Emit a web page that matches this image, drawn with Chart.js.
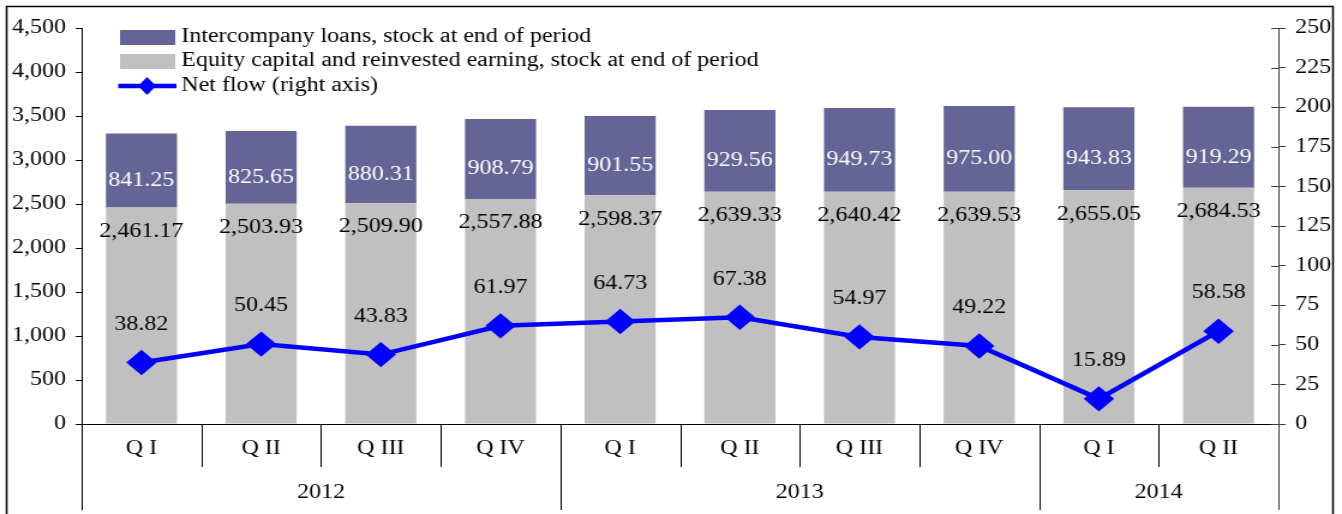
<!DOCTYPE html>
<html lang="en">
<head>
    <meta charset="UTF-8">
    <title>Foreign direct investment stocks and net flow</title>
    <script src="https://cdn.jsdelivr.net/npm/chart.js"></script>
    <style>
        html, body { margin: 0; padding: 0; background: #fff; overflow: hidden; }
    </style>
</head>
<body>
<!-- the original picture is stretched horizontally, so the canvas is drawn narrower and widened by css -->
<canvas id="fdiChart" width="1118" height="514" style="width:1342px;height:514px"></canvas>
<script>
    // data
    const quarters = ['Q I', 'Q II', 'Q III', 'Q IV', 'Q I', 'Q II', 'Q III', 'Q IV', 'Q I', 'Q II'];
    const years = ['2012', '2013', '2014'];
    const quartersPerYear = [4, 4, 2];
    const equity = [2461.17, 2503.93, 2509.90, 2557.88, 2598.37, 2639.33, 2640.42, 2639.53, 2655.05, 2684.53];
    const loans = [841.25, 825.65, 880.31, 908.79, 901.55, 929.56, 949.73, 975.00, 943.83, 919.29];
    const netFlow = [38.82, 50.45, 43.83, 61.97, 64.73, 67.38, 54.97, 49.22, 15.89, 58.58];

    const FONT = 'Liberation Serif, Times New Roman, serif';
    const PURPLE = '#646496';
    const GREY = '#c0c0c0';
    const BLUE = '#0000ff';

    const fmt2 = v => v.toLocaleString('en-US', { minimumFractionDigits: 2, maximumFractionDigits: 2 });

    // labels on the bars and the line
    const valueLabels = {
        id: 'valueLabels',
        afterDatasetsDraw(chart) {
            const ctx = chart.ctx;
            ctx.save();
            ctx.font = '20px ' + FONT;
            ctx.textAlign = 'center';
            ctx.textBaseline = 'middle';
            chart.getDatasetMeta(0).data.forEach((bar, i) => {
                ctx.fillStyle = '#000';
                ctx.fillText(fmt2(equity[i]), bar.x, bar.y + 24);
            });
            chart.getDatasetMeta(1).data.forEach((bar, i) => {
                ctx.fillStyle = '#fff';
                ctx.fillText(fmt2(loans[i]), bar.x, (bar.y + bar.base) / 2 + 10);
            });
            chart.getDatasetMeta(2).data.forEach((pt, i) => {
                ctx.fillStyle = '#000';
                ctx.fillText(fmt2(netFlow[i]), pt.x, pt.y - 38);
            });
            ctx.restore();
        }
    };

    // frame, year row, dividers, legend
    const decorations = {
        id: 'decorations',
        afterDraw(chart) {
            const ctx = chart.ctx;
            const a = chart.chartArea;
            const y1 = chart.scales.y1;
            const step = (a.right - a.left) / quarters.length;
            ctx.save();

            // outer frame
            ctx.strokeStyle = '#000';
            ctx.lineWidth = 1.5;
            ctx.strokeRect(5.5, 6.5, 1105, 520);

            // right axis cross ticks (inner half)
            ctx.strokeStyle = '#404040';
            ctx.lineWidth = 1;
            y1.ticks.forEach(t => {
                const py = Math.round(y1.getPixelForValue(t.value)) + 0.5;
                ctx.beginPath();
                ctx.moveTo(a.right - 6, py);
                ctx.lineTo(a.right, py);
                ctx.stroke();
            });

            // axis lines continued through category area
            ctx.strokeStyle = '#000';
            ctx.beginPath();
            ctx.moveTo(a.left + 0.5, a.bottom);
            ctx.lineTo(a.left + 0.5, 510);
            ctx.stroke();
            ctx.strokeStyle = '#404040';
            ctx.beginPath();
            ctx.moveTo(a.right + 0.5, a.bottom);
            ctx.lineTo(a.right + 0.5, 510);
            ctx.stroke();

            // quarter and year dividers
            ctx.strokeStyle = '#000';
            let idx = 0;
            const boundaries = new Set();
            quartersPerYear.forEach(n => { idx += n; boundaries.add(idx); });
            for (let k = 1; k < quarters.length; k++) {
                const px = Math.round(a.left + k * step) + 0.5;
                ctx.beginPath();
                ctx.moveTo(px, a.bottom);
                ctx.lineTo(px, boundaries.has(k) ? 510 : 467);
                ctx.stroke();
            }

            // year labels
            ctx.fillStyle = '#000';
            ctx.font = '20px ' + FONT;
            ctx.textAlign = 'center';
            ctx.textBaseline = 'middle';
            let start = 0;
            years.forEach((yr, j) => {
                const n = quartersPerYear[j];
                ctx.fillText(yr, a.left + (start + n / 2) * step, 493);
                start += n;
            });

            // legend
            const lx = 100;
            const rows = [37, 61, 86];
            ctx.textAlign = 'left';
            ctx.fillStyle = PURPLE;
            ctx.fillRect(lx, rows[0] - 7, 46, 15);
            ctx.fillStyle = GREY;
            ctx.fillRect(lx, rows[1] - 7, 46, 15);
            ctx.strokeStyle = BLUE;
            ctx.lineWidth = 4.5;
            ctx.beginPath();
            ctx.moveTo(lx - 1.5, rows[2]);
            ctx.lineTo(lx + 47, rows[2]);
            ctx.stroke();
            ctx.fillStyle = BLUE;
            ctx.beginPath();
            ctx.moveTo(lx + 22.5, rows[2] - 9);
            ctx.lineTo(lx + 30, rows[2]);
            ctx.lineTo(lx + 22.5, rows[2] + 9);
            ctx.lineTo(lx + 15, rows[2]);
            ctx.closePath();
            ctx.fill();
            ctx.fillStyle = '#000';
            ctx.fillText('Intercompany loans, stock at end of period', lx + 51, rows[0]);
            ctx.fillText('Equity capital and reinvested earning, stock at end of period', lx + 51, rows[1]);
            ctx.fillText('Net flow (right axis)', lx + 51, rows[2]);

            ctx.restore();
        }
    };

    const ctx = document.getElementById('fdiChart').getContext('2d');
    const fdiChart = new Chart(ctx, {
        data: {
            labels: quarters,
            datasets: [
                {
                    type: 'bar',
                    label: 'Equity capital and reinvested earning, stock at end of period',
                    data: equity,
                    backgroundColor: GREY,
                    yAxisID: 'y',
                    barPercentage: 0.594,
                    categoryPercentage: 1
                },
                {
                    type: 'bar',
                    label: 'Intercompany loans, stock at end of period',
                    data: loans,
                    backgroundColor: PURPLE,
                    yAxisID: 'y',
                    barPercentage: 0.594,
                    categoryPercentage: 1
                },
                {
                    type: 'line',
                    label: 'Net flow (right axis)',
                    data: netFlow,
                    borderColor: BLUE,
                    backgroundColor: BLUE,
                    borderWidth: 4.5,
                    pointStyle: 'rectRot',
                    pointRadius: 9.5,
                    pointHoverRadius: 9.5,
                    tension: 0,
                    yAxisID: 'y1',
                    order: -1
                }
            ]
        },
        options: {
            responsive: false,
            animation: false,
            layout: { padding: { top: 28, left: 0, right: 0, bottom: 0 } },
            plugins: {
                legend: { display: false },
                tooltip: { enabled: false }
            },
            scales: {
                x: {
                    stacked: true,
                    grid: { display: false, drawTicks: false },
                    border: { display: true, color: '#000', width: 1 },
                    ticks: { color: '#000', font: { family: FONT, size: 20 }, padding: 13, maxRotation: 0 },
                    afterFit: s => { s.height = 90; }
                },
                y: {
                    stacked: true,
                    position: 'left',
                    min: 0,
                    max: 4500,
                    ticks: {
                        stepSize: 500,
                        color: '#000',
                        padding: 8,
                        font: { family: FONT, size: 20 },
                        callback: v => v.toLocaleString('en-US')
                    },
                    grid: { drawOnChartArea: false, drawTicks: true, tickLength: 5, color: '#000' },
                    border: { display: true, color: '#000', width: 1 },
                    afterFit: s => { s.width = 68; }
                },
                y1: {
                    position: 'right',
                    min: 0,
                    max: 250,
                    ticks: {
                        stepSize: 25,
                        color: '#000',
                        padding: 8,
                        font: { family: FONT, size: 20 }
                    },
                    grid: { drawOnChartArea: false, drawTicks: true, tickLength: 6, color: '#404040' },
                    border: { display: true, color: '#404040', width: 1 },
                    afterFit: s => { s.width = 53; }
                }
            }
        },
        plugins: [valueLabels, decorations]
    });
</script>
</body>
</html>
